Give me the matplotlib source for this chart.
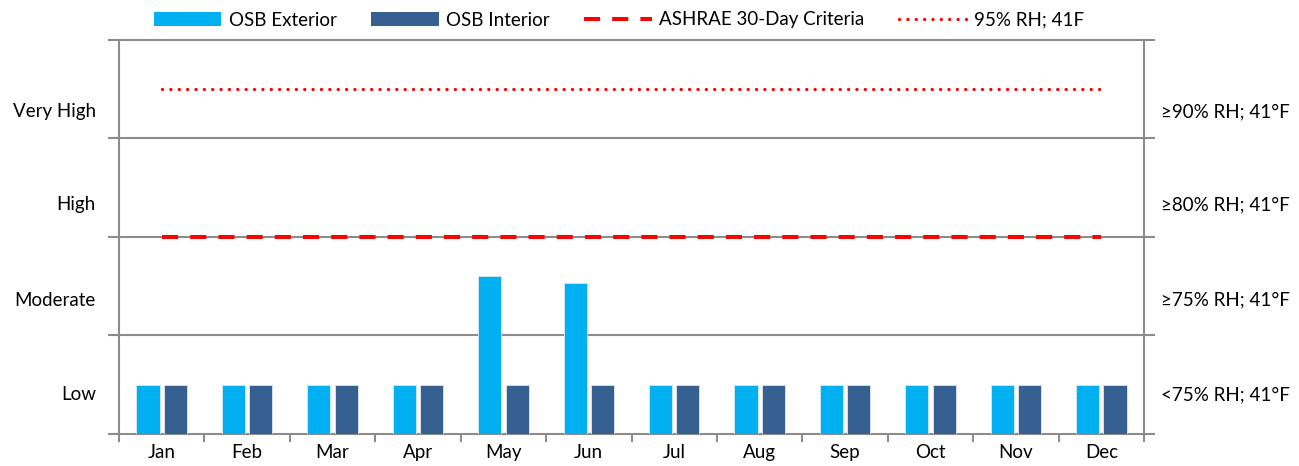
import numpy as np
import matplotlib
matplotlib.use("Agg")
import matplotlib.pyplot as plt
from matplotlib.patches import Patch
from matplotlib.lines import Line2D

plt.rcParams['font.family'] = ['Lato', 'DejaVu Sans']

months = ['Jan', 'Feb', 'Mar', 'Apr', 'May', 'Jun', 'Jul', 'Aug', 'Sep', 'Oct', 'Nov', 'Dec']
osb_exterior = [0.5, 0.5, 0.5, 0.5, 1.6, 1.53, 0.5, 0.5, 0.5, 0.5, 0.5, 0.5]
osb_interior = [0.5, 0.5, 0.5, 0.5, 0.5, 0.5, 0.5, 0.5, 0.5, 0.5, 0.5, 0.5]
ashrae = [2.0] * 12
rh95 = [3.5] * 12
left_labels = ['Low', 'Moderate', 'High', 'Very High']
right_labels = ['<75% RH; 41°F', '≥75% RH; 41°F', '≥80% RH; 41°F', '≥90% RH; 41°F']
label_pos = [0.40, 1.36, 2.33, 3.27]

c_ext = '#00B0F0'
c_int = '#376092'
grey = '#8c8c8c'
fs = 13.5

fig = plt.figure(figsize=(12.99, 4.66), dpi=100)
ax = fig.add_axes([0.0916, 0.0687, 0.8807 - 0.0916, 0.9142 - 0.0687])

x = np.arange(len(months))
w = 0.27
ax.bar(x - 0.16, osb_exterior, w, color=c_ext, edgecolor='#dce6f2', linewidth=0.6, zorder=3)
ax.bar(x + 0.16, osb_interior, w, color=c_int, edgecolor='#dce6f2', linewidth=0.6, zorder=3)

ax.plot(x, ashrae, color='#ff0000', lw=2.9, linestyle=(0, (4, 3)), zorder=4)
ax.plot(x, rh95, color='#ff0000', lw=2.4, linestyle=(0, (0.01, 2.5)),
        dash_capstyle='round', zorder=4)

ax.set_xlim(-0.5, 11.5)
ax.set_ylim(0, 4)

# grid lines like Excel
for yv in [1, 2, 3]:
    ax.axhline(yv, color=grey, lw=1.5, zorder=1)
for s in ['left', 'right', 'top', 'bottom']:
    ax.spines[s].set_color(grey)
    ax.spines[s].set_linewidth(1.5)

ax.set_yticks([0, 1, 2, 3, 4])
ax.set_yticklabels([])
ax.tick_params(axis='y', which='both', direction='out', length=8, width=1.5,
               color=grey, left=True, right=True)
ax.set_xticks(np.arange(-0.5, 12, 1))
ax.set_xticklabels([])
ax.set_xticks(x, minor=True)
ax.set_xticklabels(months, minor=True, fontsize=fs)
ax.tick_params(axis='x', which='major', direction='out', length=6, width=1.5, color=grey)
ax.tick_params(axis='x', which='minor', length=0, pad=7.5)

for p, l, r in zip(label_pos, left_labels, right_labels):
    ax.text(-0.77, p, l, ha='right', va='center', fontsize=fs)
    ax.text(11.7, p, r, ha='left', va='center', fontsize=fs)

handles = [
    Patch(facecolor=c_ext, edgecolor='none'),
    Patch(facecolor=c_int, edgecolor='none'),
    Line2D([], [], color='#ff0000', lw=2.9, linestyle=(0, (4, 3))),
    Line2D([], [], color='#ff0000', lw=2.4, linestyle=(0, (0.01, 2.5)), dash_capstyle='round'),
]
labels = ['OSB Exterior', 'OSB Interior', 'ASHRAE 30-Day Criteria', '95% RH; 41F']
fig.legend(handles, labels, loc='center', bbox_to_anchor=(619 / 1299, 1 - 20 / 466),
           ncol=4, frameon=False, fontsize=fs, handlelength=3.6, handleheight=0.75,
           handletextpad=0.4, columnspacing=1.85)

fig.savefig('out.png', dpi=100)
